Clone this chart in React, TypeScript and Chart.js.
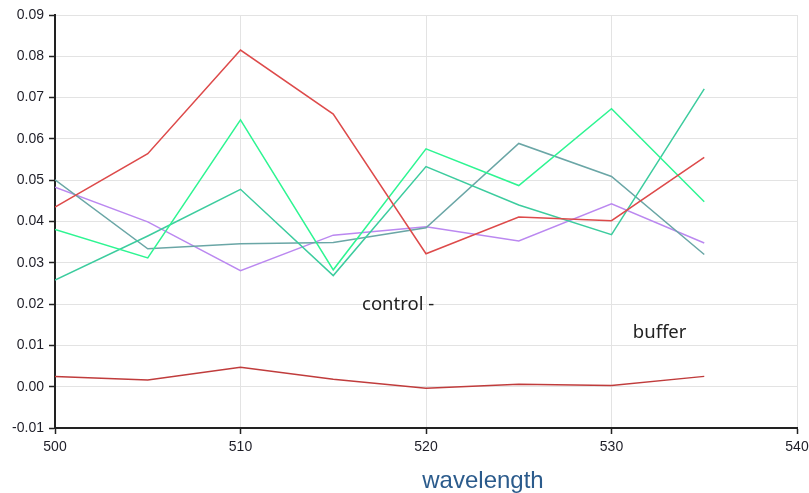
import React, { useEffect, useRef } from "react";
import { Chart, registerables } from "chart.js";

Chart.register(...registerables);

const wavelengths = [500, 505, 510, 515, 520, 525, 530, 535];
const seriesRed = [0.0435, 0.0564, 0.0815, 0.066, 0.0322, 0.0411, 0.0402, 0.0555];
const seriesBrightGreen = [0.0381, 0.0312, 0.0646, 0.0283, 0.0576, 0.0487, 0.0673, 0.0448];
const seriesTealGreen = [0.0258, 0.0365, 0.0478, 0.0269, 0.0533, 0.044, 0.0368, 0.0721];
const seriesGrayTeal = [0.0501, 0.0334, 0.0346, 0.0349, 0.0385, 0.0589, 0.0509, 0.032];
const seriesLavender = [0.0483, 0.0399, 0.0281, 0.0367, 0.0387, 0.0353, 0.0443, 0.0348];
const seriesBuffer = [0.0025, 0.0016, 0.0047, 0.0018, -0.0004, 0.0006, 0.0003, 0.0025];

const annotations = [
  { text: "control -", x: 516.55, y: 0.0199 },
  { text: "buffer", x: 531.15, y: 0.0131 },
];

const xTitle = "wavelength";

const toPoints = (vals: number[]) => vals.map((v, i) => ({ x: wavelengths[i], y: v }));

export default function App() {
  const ref = useRef<HTMLCanvasElement | null>(null);

  useEffect(() => {
    if (!ref.current) return;
    const annotationPlugin = {
      id: "textAnnotations",
      afterDatasetsDraw(chart: any) {
        const ctx = chart.ctx;
        const xs = chart.scales.x;
        const ys = chart.scales.y;
        ctx.save();
        ctx.font = "18.5px 'Noto Sans', 'Open Sans', sans-serif";
        ctx.fillStyle = "#222222";
        ctx.textAlign = "left";
        ctx.textBaseline = "middle";
        annotations.forEach((a) => {
          ctx.fillText(a.text, xs.getPixelForValue(a.x), ys.getPixelForValue(a.y));
        });
        ctx.font = "24px 'Liberation Sans', Arial, sans-serif";
        ctx.fillStyle = "#2b5b8c";
        ctx.textAlign = "center";
        ctx.fillText(xTitle, 483, 481);
        ctx.restore();
      },
    };

    const mk = (label: string, data: number[], color: string) => ({
      label,
      data: toPoints(data),
      borderColor: color,
      backgroundColor: color,
      borderWidth: 1.5,
      pointRadius: 0,
      tension: 0,
      fill: false,
    });

    const tickFont = { family: "'Liberation Sans', Arial, sans-serif", size: 14 };

    const chart = new Chart(ref.current, {
      type: "line",
      data: {
        datasets: [
          mk("s1", seriesRed, "#dd4a4a"),
          mk("s2", seriesBrightGreen, "#2ef592"),
          mk("s3", seriesTealGreen, "#3ccc9e"),
          mk("s4", seriesGrayTeal, "#6aa6a6"),
          mk("s5", seriesLavender, "#bb88f0"),
          mk("buffer", seriesBuffer, "#c03c3c"),
        ],
      },
      options: {
        animation: false,
        responsive: true,
        maintainAspectRatio: false,
        layout: { padding: { top: 15, right: 12, left: 0, bottom: 0 } },
        plugins: {
          legend: { display: false },
          tooltip: { enabled: false },
        },
        scales: {
          x: {
            type: "linear",
            min: 500,
            max: 540,
            afterFit: (scale: any) => {
              scale.height = 65;
              scale.paddingLeft = 0;
              scale.paddingRight = 0;
            },
            ticks: {
              stepSize: 10,
              color: "#1e1e28",
              font: tickFont,
              padding: 5,
              maxRotation: 0,
            },
            grid: {
              color: "#e3e3e3",
              lineWidth: 1,
              tickLength: 6,
              tickColor: "#222222",
              tickWidth: 1.5,
            },
            border: { color: "#222222", width: 2 },
          },
          y: {
            type: "linear",
            min: -0.01,
            max: 0.09,
            afterFit: (scale: any) => {
              scale.width = 55;
            },
            ticks: {
              stepSize: 0.01,
              color: "#1e1e28",
              font: tickFont,
              padding: 5,
              callback: (v: any) => {
                const n = Number(v);
                return (Math.abs(n) < 1e-9 ? 0 : n).toFixed(2);
              },
            },
            grid: {
              color: "#e3e3e3",
              lineWidth: 1,
              tickLength: 6,
              tickColor: "#222222",
              tickWidth: 1.5,
            },
            border: { color: "#222222", width: 2 },
          },
        },
      },
      plugins: [annotationPlugin],
    } as any);

    return () => chart.destroy();
  }, []);

  return (
    <div style={{ position: "absolute", left: 0, top: 0, width: 809, height: 493, background: "#ffffff" }}>
      <canvas ref={ref} />
    </div>
  );
}
